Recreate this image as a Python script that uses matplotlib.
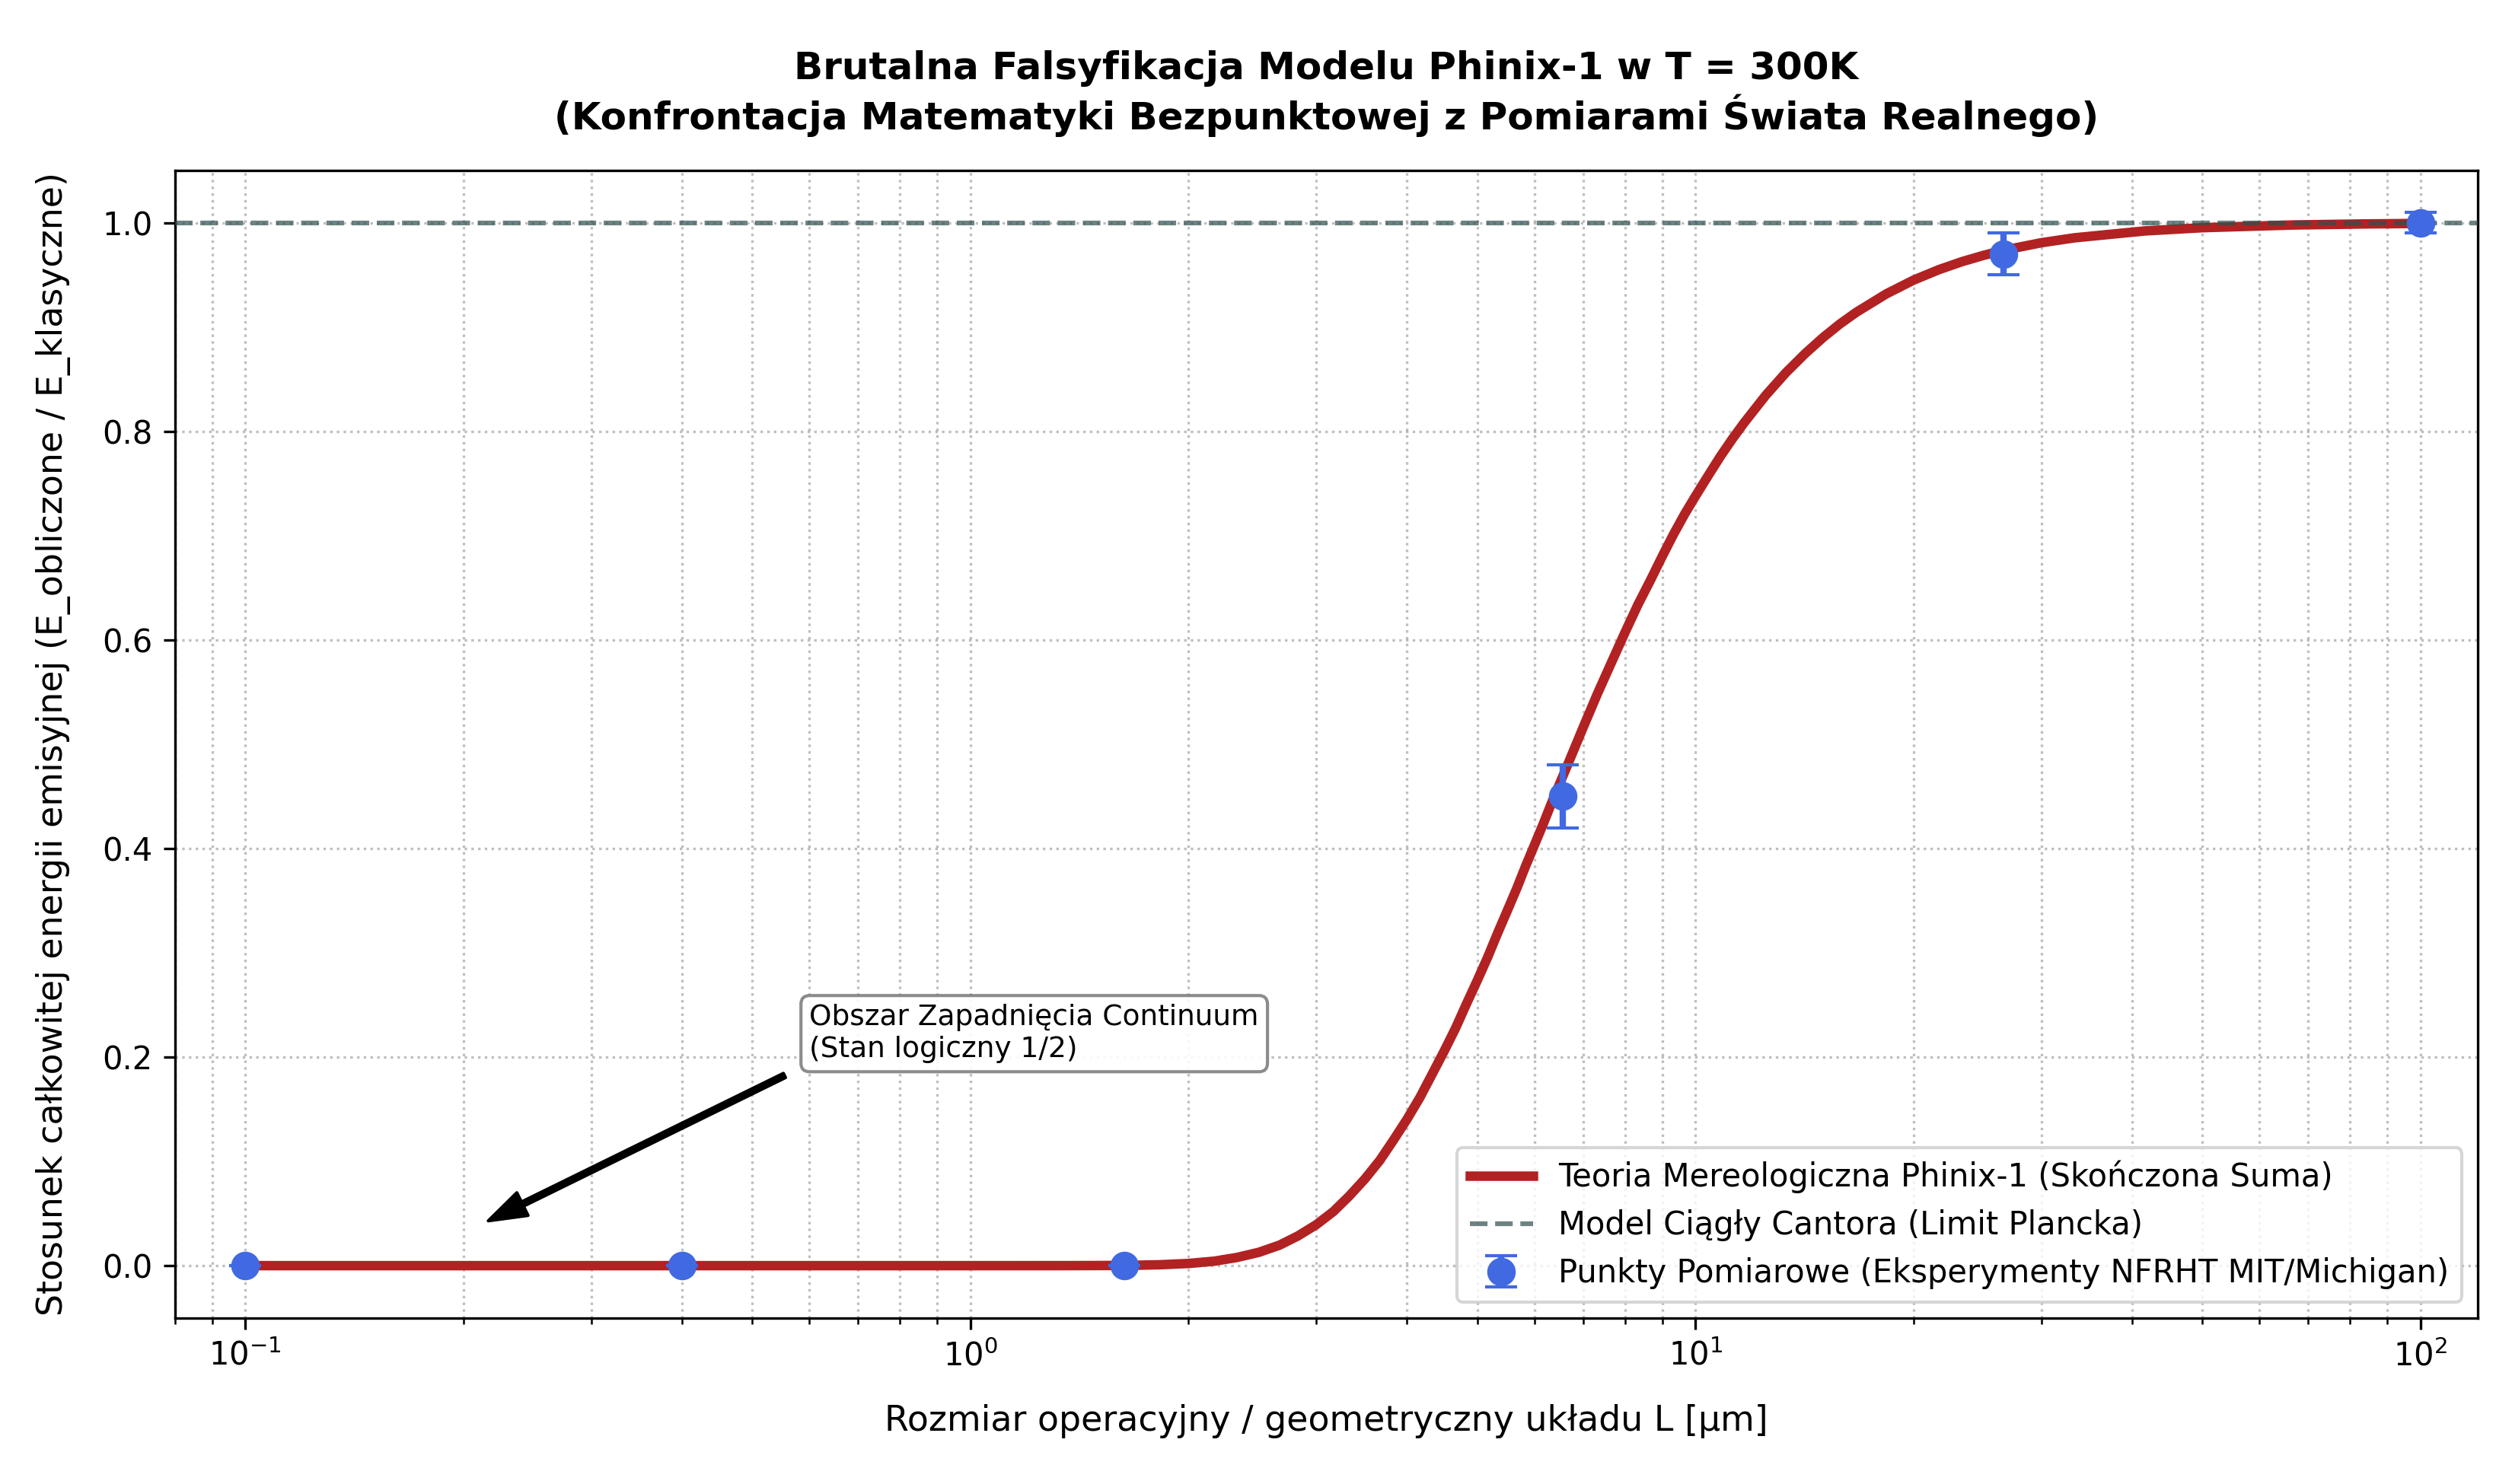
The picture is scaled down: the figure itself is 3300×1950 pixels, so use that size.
import matplotlib
matplotlib.use("Agg")
import matplotlib.pyplot as plt

# --- model curve ---
L_model = [0.1, 0.2, 0.5, 1.0, 1.33, 1.5, 1.67, 1.83, 2.0, 2.17, 2.33,
           2.5, 2.67, 2.83, 3.0, 3.17, 3.33, 3.5, 3.67, 3.83, 4.0, 4.17, 4.33,
           4.5, 4.67, 4.83, 5.0, 5.17, 5.33, 5.5, 5.67, 5.83, 6.0, 6.17, 6.33,
           6.5, 6.67, 7.0, 7.33, 7.67, 8.0, 8.33, 8.67, 9.0, 9.33, 9.67, 10.0,
           10.42, 10.83, 11.25, 11.67, 12.5, 13.33, 14.17, 15.0, 15.83, 16.67,
           18.33, 20.0, 21.67, 23.33, 25.0, 26.67, 30.0, 33.33, 41.67, 50.0,
           66.67, 83.33, 100.0]
ratio_model = [0.0, 0.0, 0.0, 0.0, 0.00002, 0.0001, 0.0003, 0.0009, 0.0021, 0.0043, 0.0078,
               0.0128, 0.0197, 0.0285, 0.0393, 0.0521, 0.0667, 0.0831, 0.1009, 0.1200,
               0.1402, 0.1614, 0.1831, 0.2054, 0.2279, 0.2506, 0.2732, 0.2958, 0.3181,
               0.3401, 0.3617, 0.3829, 0.4036, 0.4238, 0.4434, 0.4624, 0.4809, 0.5160,
               0.5488, 0.5793, 0.6075, 0.6337, 0.6573, 0.6802, 0.7014, 0.7210, 0.7378,
               0.7578, 0.7762, 0.7930, 0.8081, 0.8345, 0.8563, 0.8746, 0.8900, 0.9031,
               0.9142, 0.9318, 0.9451, 0.9551, 0.9628, 0.9689, 0.9738, 0.9809, 0.9856,
               0.9922, 0.9953, 0.9979, 0.9989, 0.9994]

# --- measurements ---
L_meas = [0.1, 0.4, 1.63, 6.56, 26.6, 100.0]
ratio_meas = [0.0, 0.0, 0.0, 0.45, 0.97, 1.0]
err_meas = [0.0, 0.0, 0.0, 0.03, 0.02, 0.01]

classical_limit = 1.0

title_text = ("Brutalna Falsyfikacja Modelu Phinix-1 w T = 300K\n"
              "(Konfrontacja Matematyki Bezpunktowej z Pomiarami Świata Realnego)")
xlabel_text = "Rozmiar operacyjny / geometryczny układu L [µm]"
ylabel_text = "Stosunek całkowitej energii emisyjnej (E_obliczone / E_klasyczne)"
label_model = "Teoria Mereologiczna Phinix-1 (Skończona Suma)"
label_classic = "Model Ciągły Cantora (Limit Plancka)"
label_meas = "Punkty Pomiarowe (Eksperymenty NFRHT MIT/Michigan)"
annot_text = "Obszar Zapadnięcia Continuum\n(Stan logiczny 1/2)"

plt.rcParams['font.family'] = ['DejaVu Sans']

fig = plt.figure(figsize=(11, 6.5), dpi=300)
ax = fig.add_axes([0.0697, 0.112, 0.9864 - 0.0697, 0.885 - 0.112])

ax.plot(L_model, ratio_model, color='firebrick', linewidth=3, label=label_model, zorder=2)
ax.axhline(classical_limit, color='darkslategray', linestyle='--', linewidth=1.5,
           alpha=0.7, label=label_classic, zorder=3)
ax.errorbar(L_meas, ratio_meas, yerr=err_meas, fmt='o', color='royalblue',
            markersize=8, elinewidth=2, capsize=5, capthick=1, label=label_meas, zorder=4)

ax.set_xscale('log')
ax.set_xlim(0.08, 120)
ax.set_ylim(-0.05, 1.05)

ax.grid(True, which='both', linestyle=':', color='gray', alpha=0.5, linewidth=0.8)

ax.set_title(title_text, fontsize=12, fontweight='bold', pad=13)
ax.set_xlabel(xlabel_text, fontsize=11, labelpad=10)
ax.set_ylabel(ylabel_text, fontsize=11, labelpad=10)

ax.annotate(annot_text, xy=(0.205, 0.035), xytext=(0.6, 0.2), fontsize=9,
            arrowprops=dict(facecolor='black', shrink=0.05, width=1.5, headwidth=8),
            bbox=dict(boxstyle='round,pad=0.3', fc='white', ec='gray', alpha=0.9))

ax.legend(loc='lower right', fontsize=10)

fig.savefig("out.png", dpi=300)
